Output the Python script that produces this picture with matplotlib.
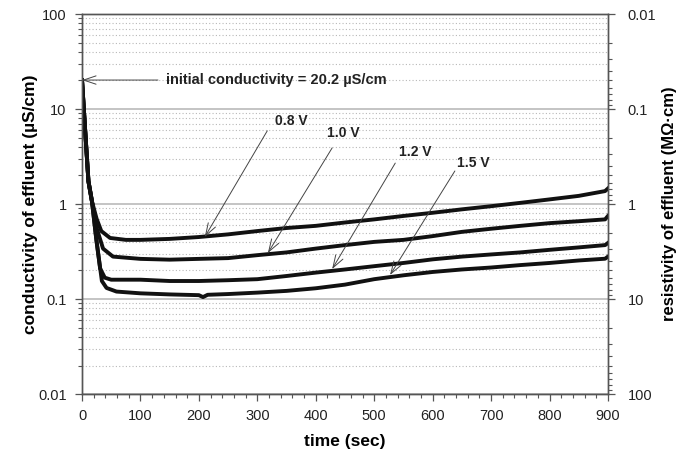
import numpy as np
import matplotlib.pyplot as plt
from matplotlib.ticker import LogLocator, FixedLocator, FixedFormatter, MultipleLocator, NullFormatter

plt.rcParams["font.family"] = ["Liberation Sans", "DejaVu Sans"]

# conductivity of effluent (uS/cm) vs time (sec)
t_08 = [0, 5, 11, 17, 25, 33, 48, 75, 100, 150, 200, 250, 300, 350, 400, 450, 500,
        550, 600, 650, 700, 750, 800, 850, 895, 900]
c_08 = [20.2, 6.5, 1.74, 1.07, 0.70, 0.52, 0.44, 0.42, 0.42, 0.43, 0.45, 0.48, 0.52,
        0.56, 0.59, 0.64, 0.69, 0.75, 0.81, 0.88, 0.95, 1.03, 1.12, 1.22, 1.37, 1.46]

t_10 = [0, 5, 11, 17, 25, 36, 53, 100, 150, 200, 250, 300, 350, 400, 450, 500,
        550, 600, 650, 700, 750, 800, 850, 895, 900]
c_10 = [20.2, 6.5, 1.74, 1.07, 0.56, 0.34, 0.28, 0.265, 0.26, 0.265, 0.27, 0.29,
        0.31, 0.34, 0.37, 0.40, 0.42, 0.46, 0.51, 0.55, 0.59, 0.63, 0.66, 0.69, 0.75]

t_12 = [0, 5, 11, 17, 24, 31, 39, 50, 100, 150, 200, 250, 300, 350, 400, 450, 500,
        550, 600, 650, 700, 750, 800, 850, 895, 900]
c_12 = [20.2, 6.5, 1.74, 1.07, 0.45, 0.21, 0.168, 0.16, 0.16, 0.155, 0.155, 0.158,
        0.162, 0.175, 0.19, 0.205, 0.222, 0.24, 0.262, 0.28, 0.295, 0.31, 0.33,
        0.35, 0.37, 0.39]

t_15 = [0, 5, 11, 17, 25, 34, 42, 59, 100, 150, 200, 207, 215, 250, 300, 350, 400,
        450, 500, 550, 600, 650, 700, 750, 800, 850, 895, 900]
c_15 = [20.2, 6.5, 1.74, 1.07, 0.40, 0.155, 0.131, 0.12, 0.115, 0.112, 0.11, 0.105,
        0.111, 0.113, 0.117, 0.122, 0.13, 0.142, 0.162, 0.178, 0.193, 0.205, 0.215,
        0.228, 0.24, 0.255, 0.266, 0.28]

# label text, text position, arrow tail, arrow tip (data coords)
volt_labels = ["0.8 V", "1.0 V", "1.2 V", "1.5 V"]
label_pos = [(358, 7.5), (447, 5.6), (570, 3.55), (669, 2.7)]
arrow_tail = [(317, 5.9), (428, 3.9), (536, 2.7), (638, 2.23)]
arrow_tip = [(210, 0.45), (318, 0.305), (428, 0.207), (527, 0.179)]

fig = plt.figure(figsize=(6.8, 4.53), dpi=100)
ax = fig.add_axes([0.1206, 0.130, 0.7735, 0.839])

for t, c in [(t_08, c_08), (t_10, c_10), (t_12, c_12), (t_15, c_15)]:
    ax.plot(t, c, color="#111111", lw=2.8, solid_joinstyle="round", zorder=3)

ax.set_yscale("log")
ax.set_ylim(0.01, 100)
ax.set_xlim(0, 900)
ax.xaxis.set_major_locator(MultipleLocator(100))
ax.xaxis.set_minor_locator(MultipleLocator(20))
ax.yaxis.set_major_locator(FixedLocator([0.01, 0.1, 1, 10, 100]))
ax.yaxis.set_major_formatter(FixedFormatter(["0.01", "0.1", "1", "10", "100"]))
ax.yaxis.set_minor_locator(LogLocator(base=10, subs=np.arange(2, 10)))
ax.yaxis.set_minor_formatter(NullFormatter())

ax.grid(True, which="major", axis="y", color="#c4c4c4", lw=1.4, ls="-", zorder=0)
ax.grid(True, which="minor", axis="y", color="#b8b8b8", lw=0.8, ls=(0, (1, 2)), zorder=0)

for s in ax.spines.values():
    s.set_color("#555555")
    s.set_linewidth(1.0)

ax.tick_params(which="major", direction="out", length=5, width=0.9, color="#555555",
               labelsize=10.5, labelcolor="#222222", pad=6)
ax.tick_params(which="minor", direction="out", length=3, width=0.8, color="#555555")

ax.set_xlabel("time (sec)", fontsize=12.5, fontweight="bold", labelpad=8)
ax.set_ylabel("conductivity of effluent (\u00b5S/cm)", fontsize=12.5, fontweight="bold")
ax.yaxis.set_label_coords(-0.084, 0.5)

# right axis: resistivity = 1 / conductivity (M-ohm cm)
ax2 = ax.twinx()
ax2.set_yscale("log")
ax2.set_ylim(100, 0.01)
ax2.yaxis.set_major_locator(FixedLocator([0.01, 0.1, 1, 10, 100]))
ax2.yaxis.set_major_formatter(FixedFormatter(["0.01", "0.1", "1", "10", "100"]))
ax2.yaxis.set_minor_locator(LogLocator(base=10, subs=np.arange(2, 10)))
ax2.yaxis.set_minor_formatter(NullFormatter())
for s in ax2.spines.values():
    s.set_color("#555555")
    s.set_linewidth(1.0)
ax2.tick_params(which="major", direction="out", length=5, width=0.9, color="#555555",
                labelsize=10.5, labelcolor="#222222", pad=9)
ax2.tick_params(which="minor", direction="out", length=3, width=0.8, color="#555555")
ax2.set_ylabel("resistivity of effluent (M\u03a9\u00b7cm)", fontsize=12, fontweight="bold",
               labelpad=4)

arrow_style = dict(arrowstyle="->,head_length=0.9,head_width=0.3", color="#444444",
                   lw=0.7, shrinkA=0, shrinkB=0)

ax.annotate("", xy=(0, 20.2), xytext=(130, 20.2), arrowprops=arrow_style, zorder=4)
ax.text(144, 20.2, "initial conductivity = 20.2 \u00b5S/cm", fontsize=10.5, fontweight="bold",
        ha="left", va="center", color="#222222")

for lab, pos, tail, tip in zip(volt_labels, label_pos, arrow_tail, arrow_tip):
    ax.annotate("", xy=tip, xytext=tail, arrowprops=arrow_style, zorder=4)
    ax.text(pos[0], pos[1], lab, fontsize=10, fontweight="bold", ha="center", va="center",
            color="#222222")

fig.savefig("out.png", dpi=100)
